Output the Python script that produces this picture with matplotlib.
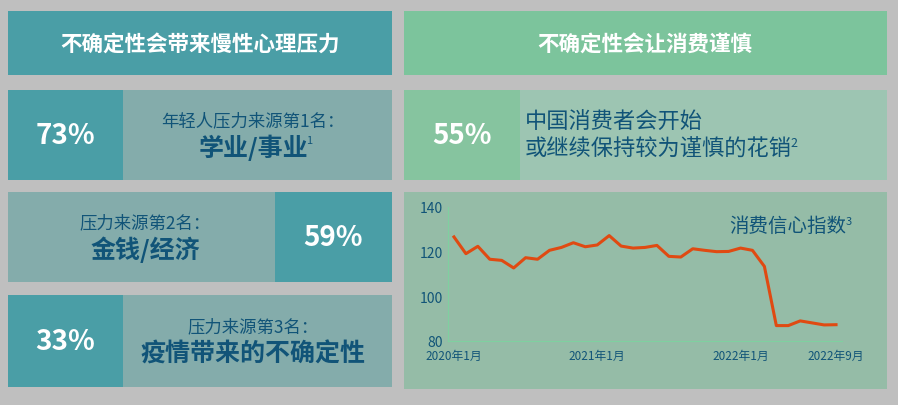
import matplotlib
matplotlib.use("Agg")
import matplotlib.pyplot as plt
from matplotlib.patches import Rectangle

plt.rcParams["font.family"] = ["Noto Sans CJK SC", "DejaVu Sans"]

W, H = 898, 406

# data
stress_pcts = ["73%", "59%", "33%"]
stress_labels = ["年轻人压力来源第1名：", "压力来源第2名：", "压力来源第3名："]
stress_items = ["学业/事业", "金钱/经济", "疫情带来的不确定性"]
stress_sups = ["1", "", ""]
months = list(range(33))  # 2020-01 .. 2022-09
confidence = [126.6, 119.1, 122.4, 116.6, 116.1, 112.7, 117.3, 116.6, 120.6, 121.9,
              124.0, 122.2, 123.0, 127.2, 122.5, 121.6, 121.9, 122.8, 117.9, 117.6,
              121.3, 120.6, 120.0, 120.1, 121.6, 120.6, 113.4, 86.9, 86.9, 89.0,
              88.1, 87.2, 87.3]
tick_pos = [0, 12, 24, 32]
tick_labels = ["2020年1月", "2021年1月", "2022年1月", "2022年9月"]

fig = plt.figure(figsize=(W / 100, H / 100), dpi=100)
fig.patch.set_facecolor("#bfbfbf")
bg = fig.add_axes([0, 0, 1, 1])
bg.set_xlim(0, W)
bg.set_ylim(H, 0)
bg.axis("off")


def box(x0, y0, x1, y1, color):
    bg.add_patch(Rectangle((x0, y0), x1 - x0, y1 - y0, color=color, lw=0))


def sup(t, s, size=8):
    # superscript right after a text artist
    bg.annotate(s, xy=(1, 0.75), xycoords=t, xytext=(-1, 0), textcoords="offset points",
                color=DARK, fontsize=size, ha="left", va="center")


TEAL = "#4a9ea6"
TEAL_L = "#84acab"
GREEN = "#7cc49c"
DARK = "#115478"

# headers
box(8, 12, 392, 76, TEAL)
bg.text(200, 44, "不确定性会带来慢性心理压力", color="white", fontsize=15.5,
        fontweight="bold", ha="center", va="center")
box(404, 12, 887, 76, GREEN)
bg.text(645, 44, "不确定性会让消费谨慎", color="white", fontsize=15.5,
        fontweight="bold", ha="center", va="center")

# left rows
rows = [(91, 181), (193, 283), (296, 388)]
for i, (y0, y1) in enumerate(rows):
    box(8, y0, 392, y1, TEAL_L)
    ym = (y0 + y1) / 2
    if i == 1:
        box(275, y0, 392, y1, TEAL)
        px, tx = 333, 145
    else:
        box(8, y0, 123, y1, TEAL)
        px, tx = 65, 253
    bg.text(px, ym, stress_pcts[i], color="white", fontsize=20, fontweight="bold",
            ha="center", va="center")
    bg.text(tx, ym - 15, stress_labels[i], color=DARK, fontsize=12.5,
            ha="center", va="center")
    t = bg.text(tx, ym + 12, stress_items[i], color=DARK, fontsize=18,
                fontweight="bold", ha="center", va="center")
    if stress_sups[i]:
        sup(t, stress_sups[i])

# right row 1
box(404, 91, 887, 181, "#9dc5b2")
box(404, 91, 520, 181, "#86c49f")
bg.text(462, 136, "55%", color="white", fontsize=20, fontweight="bold",
        ha="center", va="center")
bg.text(525, 122, "中国消费者会开始", color=DARK, fontsize=16, ha="left", va="center")
t = bg.text(525, 149, "或继续保持较为谨慎的花销", color=DARK, fontsize=16,
            ha="left", va="center")
sup(t, "2", 9)

# chart panel
box(404, 193, 887, 390, "#95bca7")
ax = fig.add_axes([448 / W, 1 - 342 / H, (842 - 448) / W, (342 - 208) / H])
ax.patch.set_alpha(0)
ax.plot(months, confidence, color="#e04a12", lw=2.2)
ax.set_xlim(-0.5, 32.5)
ax.set_ylim(80, 140)
ax.set_yticks([80, 100, 120, 140])
ax.set_xticks(tick_pos)
ax.set_xticklabels(tick_labels)
ax.tick_params(length=0, colors=DARK, labelsize=10)
ax.tick_params(axis="x", labelsize=8.5, pad=6)
for s in ["top", "right"]:
    ax.spines[s].set_visible(False)
for s in ["left", "bottom"]:
    ax.spines[s].set_color("#7fd0a0")
    ax.spines[s].set_linewidth(0.8)
t = ax.text(1.01, 0.86, "消费信心指数", transform=ax.transAxes, color=DARK, fontsize=14,
            ha="right", va="center")
bg.annotate("3", xy=(1, 0.75), xycoords=t, xytext=(-0.5, 0), textcoords="offset points",
            color=DARK, fontsize=8, ha="left", va="center")

fig.savefig("out.png", dpi=100)
